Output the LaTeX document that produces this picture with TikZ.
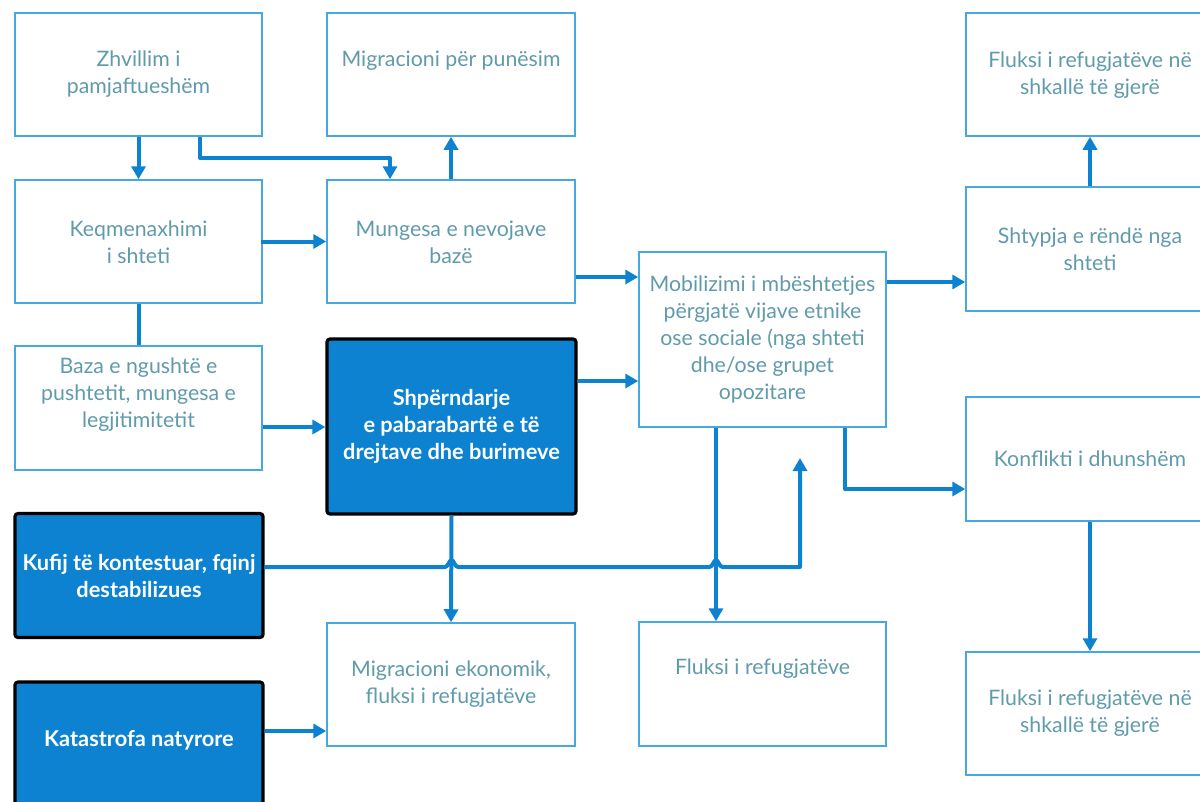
\documentclass[tikz,border=0pt]{standalone}
\usepackage{fontspec}
\setmainfont{Lato}
\usetikzlibrary{arrows.meta}
\definecolor{flowblue}{RGB}{12,130,208}
\definecolor{boxline}{RGB}{70,168,222}
\definecolor{softtext}{RGB}{96,155,172}
\begin{document}
\begin{tikzpicture}[x=1pt,y=-1pt,
  lbox/.style={draw=boxline,line width=1.5pt,fill=white,inner sep=0pt,
    minimum width=248pt,minimum height=123pt},
  darkbox/.style={draw=black,line width=3.2pt,fill=flowblue,rounded corners=3pt,
    inner sep=0pt,minimum width=248pt,minimum height=124pt},
  ltext/.style={text=softtext,align=center,inner sep=0pt,
    font=\fontsize{21.3}{27}\selectfont},
  dtext/.style={text=white,align=center,inner sep=0pt,
    font=\fontsize{21.8}{27}\selectfont\bfseries},
  arr/.style={draw=flowblue,line width=4pt,line join=round,
    -{Triangle[length=13pt,width=14pt]}},
  link/.style={draw=flowblue,line width=4pt,line join=round}]
\useasboundingbox (0,0) rectangle (1200,801);
\clip (0,0) rectangle (1200,801);

% left column
\node[lbox,minimum width=247pt] (zh) at (138.5,74.5) {};
\node[ltext] (zh-t) at (138.5,74) {Zhvillim i\\pamjaftueshëm};
\node[lbox,minimum width=247pt] (kq) at (138.5,241.5) {};
\node[ltext] (kq-t) at (138.5,242) {Keqmenaxhimi\\i shteti};
\node[lbox,minimum width=247pt,minimum height=124pt] (bz) at (138.5,408) {};
\node[ltext] (bz-t) at (138.5,395) {Baza e ngushtë e\\pushtetit, mungesa e\\legjitimitetit};
\node[darkbox] (kf) at (139,575.5) {};
\node[dtext] (kf-t) at (139,576) {Kufij të kontestuar, fqinj\\destabilizues};
\node[darkbox,minimum height=148pt] (kt) at (139,756) {};
\node[dtext] (kt-t) at (139,740) {Katastrofa natyrore};

% second column
\node[lbox] (mp) at (451,74.5) {};
\node[ltext] (mp-t) at (451,61) {Migracioni për punësim};
\node[lbox] (mn) at (451,241.5) {};
\node[ltext] (mn-t) at (451,242) {Mungesa e nevojave\\bazë};
\node[darkbox,minimum width=249pt,minimum height=175pt] (sh) at (451.5,426.5) {};
\node[dtext] (sh-t) at (451.5,426) {Shpërndarje\\e pabarabartë e të\\drejtave dhe burimeve};
\node[lbox] (me) at (451,684.5) {};
\node[ltext] (me-t) at (451,684) {Migracioni ekonomik,\\fluksi i refugjatëve};

% third column
\node[lbox,minimum width=247pt,minimum height=175pt] (mb) at (762.5,339.5) {};
\node[ltext] (mb-t) at (762.5,339) {Mobilizimi i mbështetjes\\përgjatë vijave etnike\\ose sociale (nga shteti\\dhe/ose grupet\\opozitare};
\node[lbox,minimum width=247pt,minimum height=124pt] (fr) at (762.5,684) {};
\node[ltext] (fr-t) at (762.5,669) {Fluksi i refugjatëve};

% right column
\node[lbox] (ft) at (1090,74.5) {};
\node[ltext] (ft-t) at (1090,75) {Fluksi i refugjatëve në\\shkallë të gjerë};
\node[lbox,minimum height=124pt] (st) at (1090,249) {};
\node[ltext] (st-t) at (1090,249) {Shtypja e rëndë nga\\shteti};
\node[lbox,minimum height=124pt] (kn) at (1090,459) {};
\node[ltext] (kn-t) at (1090,459) {Konflikti i dhunshëm};
\node[lbox] (fb) at (1090,713.5) {};
\node[ltext] (fb-t) at (1090,713) {Fluksi i refugjatëve në\\shkallë të gjerë};

% connectors
\coordinate (mbin) at (800,458);
\draw[arr] (zh.south) -- (kq.north);
\draw[arr] ([xshift=61.5pt]zh.south) -- ++(0,21) -| ([xshift=-61pt]mn.north);
\draw[arr] (mn.north) -- (mp.south);
\draw[arr] ([xshift=-2pt]kq.east) -- (mn.west);
\draw[link] (kq.south) -- (bz.north);
\draw[arr] (bz.east |- 0,427) -- (sh.west |- 0,427);
\draw[arr] (mn.east |- 0,277) -- (mb.west |- 0,277);
\draw[arr] (sh.east |- 0,381) -- (mb.west |- 0,381);
\draw[arr] (sh.south) -- (me.north);
\draw[arr] (kt.east |- 0,731) -- (me.west |- 0,731);
\draw[arr] (716,0 |- mb.south) -- (716,0 |- fr.north);
\draw[arr] (845,0 |- mb.south) |- (kn.west |- 0,489);
\draw[arr] (mb.east |- 0,282) -- (st.west |- 0,282);
\draw[arr] (st.north) -- (ft.south);
\draw[arr] (kn.south) -- (fb.north);
\draw[arr] (kf.east |- 0,567) -- (445,567)
  .. controls (448,567) and (449.5,560) .. (451.5,560)
  .. controls (453.5,560) and (455,567) .. (458,567)
  -- (709.5,567)
  .. controls (712.5,567) and (714,560) .. (716,560)
  .. controls (718,560) and (719.5,567) .. (722.5,567)
  -- (mbin |- 0,567) -- (mbin);
\end{tikzpicture}
\end{document}
